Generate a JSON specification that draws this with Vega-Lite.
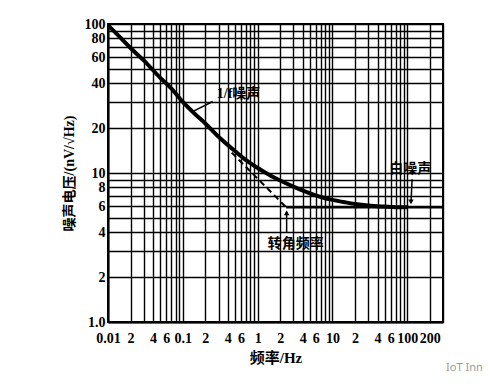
{
  "$schema": "https://vega.github.io/schema/vega-lite/v6.json",
  "autosize": "none",
  "width": 335,
  "height": 298,
  "padding": {"left": 108, "top": 24, "right": 49, "bottom": 62},
  "background": "white",
  "config": {
    "view": {"stroke": "black", "strokeWidth": 2},
    "font": "Liberation Serif, Noto Sans CJK SC"
  },
  "datasets": {
    "curve": [
      {"f": 0.01, "v": 98}, {"f": 0.015, "v": 80}, {"f": 0.02, "v": 69}, {"f": 0.03, "v": 57},
      {"f": 0.05, "v": 43.5}, {"f": 0.07, "v": 37}, {"f": 0.1, "v": 30}, {"f": 0.15, "v": 24.5},
      {"f": 0.2, "v": 21.5}, {"f": 0.3, "v": 17.5}, {"f": 0.5, "v": 14}, {"f": 0.7, "v": 12.2},
      {"f": 1, "v": 10.8}, {"f": 1.5, "v": 9.6}, {"f": 2, "v": 8.9}, {"f": 3, "v": 8.1},
      {"f": 5, "v": 7.3}, {"f": 7, "v": 6.9}, {"f": 10, "v": 6.6}, {"f": 15, "v": 6.35},
      {"f": 20, "v": 6.2}, {"f": 30, "v": 6.05}, {"f": 50, "v": 5.95}, {"f": 70, "v": 5.9},
      {"f": 100, "v": 5.9}
    ],
    "dashed": [{"f": 0.45, "v": 13.7}, {"f": 2.4, "v": 5.9}],
    "white": [{"f": 2.4, "v": 5.9}, {"f": 300, "v": 5.9}],
    "leaders": [
      {"f": 0.251, "v": 30.2, "f2": 0.135, "v2": 25.8},
      {"f": 116, "v": 9.1, "f2": 112, "v2": 6.3},
      {"f": 2.44, "v": 3.98, "f2": 2.44, "v2": 5.5}
    ],
    "headsDown": [{"f": 112, "v": 6.4}],
    "headsUp": [{"f": 2.44, "v": 5.4}],
    "labels": [
      {"f": 0.284, "v": 34.1, "label": "1/f噪声"},
      {"f": 57.5, "v": 10.6, "label": "白噪声"},
      {"f": 1.36, "v": 3.36, "label": "转角频率"}
    ],
    "mark": [{"f": 330, "v": 0.49, "label": "IoT Inn"}]
  },
  "encoding": {
    "x": {
      "field": "f", "type": "quantitative",
      "scale": {"type": "log", "domain": [0.01, 300], "nice": false},
      "axis": {
        "values": [0.01,0.02,0.03,0.04,0.05,0.06,0.07,0.08,0.09,0.1,0.2,0.3,0.4,0.5,0.6,0.7,0.8,0.9,1,2,3,4,5,6,7,8,9,10,20,30,40,50,60,70,80,90,100,200,300],
        "labelExpr": "indexof([0.01,0.02,0.04,0.06,0.1,0.2,0.4,0.6,1,2,4,6,10,20,40,60,100,200], datum.value) >= 0 ? ['0.01','2','4','6','0.1','2','4','6','1','2','4','6','10','2','4','6','100','200'][indexof([0.01,0.02,0.04,0.06,0.1,0.2,0.4,0.6,1,2,4,6,10,20,40,60,100,200], datum.value)] : ''",
        "grid": true, "gridColor": "black", "gridWidth": 1.4, "gridOpacity": 1,
        "ticks": false, "domainColor": "black", "domainWidth": 2,
        "labelFont": "Liberation Serif", "labelFontSize": 14, "labelFontWeight": "bold", "labelColor": "black",
        "labelPadding": 9, "labelFlush": false, "labelOverlap": false,
        "title": "频率/Hz", "titleFont": "Liberation Serif, Noto Sans CJK SC", "titleFontSize": 15,
        "titleFontWeight": "bold", "titleColor": "black", "titlePadding": 5
      }
    },
    "y": {
      "field": "v", "type": "quantitative",
      "scale": {"type": "log", "domain": [1, 100], "nice": false},
      "axis": {
        "values": [1,2,3,4,5,6,7,8,9,10,20,30,40,50,60,70,80,90,100],
        "labelExpr": "indexof([1,2,4,6,8,10,20,40,60,80,100], datum.value) >= 0 ? (datum.value == 1 ? '1.0' : '' + datum.value) : ''",
        "grid": true, "gridColor": "black", "gridWidth": 1.4, "gridOpacity": 1,
        "ticks": false, "domainColor": "black", "domainWidth": 2,
        "labelFont": "Liberation Serif", "labelFontSize": 14, "labelFontWeight": "bold", "labelColor": "black",
        "labelPadding": 3, "labelFlush": false, "labelOverlap": false,
        "title": "噪声电压/(nV/√Hz)", "titleFont": "Liberation Serif, Noto Sans CJK SC", "titleFontSize": 14,
        "titleFontWeight": "bold", "titleColor": "black", "titlePadding": 8
      }
    }
  },
  "layer": [
    {"data": {"name": "white"}, "mark": {"type": "line", "color": "black", "strokeWidth": 2.5}},
    {"data": {"name": "curve"}, "mark": {"type": "line", "color": "black", "strokeWidth": 4, "interpolate": "monotone"}},
    {"data": {"name": "dashed"}, "mark": {"type": "line", "color": "black", "strokeWidth": 2, "strokeDash": [6, 4]}},
    {"data": {"name": "leaders"}, "mark": {"type": "rule", "color": "black", "strokeWidth": 1.5},
     "encoding": {"x2": {"field": "f2"}, "y2": {"field": "v2"}}},
    {"data": {"name": "headsDown"}, "mark": {"type": "point", "shape": "triangle-down", "filled": true, "color": "black", "size": 30, "opacity": 1}},
    {"data": {"name": "headsUp"}, "mark": {"type": "point", "shape": "triangle-up", "filled": true, "color": "black", "size": 30, "opacity": 1}},
    {"data": {"name": "labels"}, "mark": {"type": "text", "align": "left", "baseline": "middle", "fontSize": 14, "fontWeight": "bold", "color": "black", "font": "Liberation Serif, Noto Sans CJK SC"},
     "encoding": {"text": {"field": "label"}}},
    {"data": {"name": "mark"}, "mark": {"type": "text", "align": "left", "baseline": "middle", "fontSize": 11, "color": "#999999", "font": "Noto Sans"},
     "encoding": {"text": {"field": "label"}}}
  ]
}
